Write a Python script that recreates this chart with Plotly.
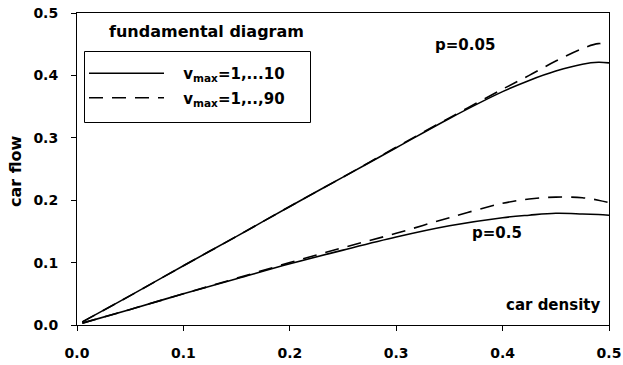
import plotly.graph_objects as go

# car density (x)
density = [0.005, 0.05, 0.1, 0.15, 0.2, 0.25, 0.3, 0.35, 0.4, 0.425, 0.45, 0.475, 0.49, 0.5]

# p = 0.05
flow_p005_v10 = [0.005, 0.047, 0.095, 0.142, 0.19, 0.237, 0.284, 0.331, 0.374, 0.392, 0.407, 0.418, 0.421, 0.420]
flow_p005_v90 = [0.005, 0.047, 0.095, 0.142, 0.19, 0.237, 0.285, 0.332, 0.378, 0.400, 0.423, 0.443, 0.451, 0.448]

# p = 0.5
flow_p05_v10 = [0.003, 0.025, 0.050, 0.074, 0.098, 0.120, 0.141, 0.159, 0.172, 0.176, 0.179, 0.178, 0.177, 0.176]
flow_p05_v90 = [0.003, 0.025, 0.050, 0.075, 0.100, 0.124, 0.147, 0.172, 0.195, 0.202, 0.205, 0.204, 0.200, 0.196]

x_ticks = [0.0, 0.1, 0.2, 0.3, 0.4, 0.5]
y_ticks = [0.0, 0.1, 0.2, 0.3, 0.4, 0.5]

series_names = ["v<sub>max</sub>=1,...10", "v<sub>max</sub>=1,..,90"]

FONT = "DejaVu Sans, Arial, sans-serif"
LINE_W = 1.6
DASH = "14px,9px"

# plot area in pixels
L, R, T, B = 77, 14, 13, 40
W, H = 623, 365
PW, PH = W - L - R, H - T - B


def px_x(x):
    return (x - L) / PW


def px_y(y):
    return (H - B - y) / PH


def legend_label(s):
    return "&nbsp;&nbsp;&nbsp;<b>" + s + "</b>"


fig = go.Figure()
fig.add_trace(go.Scatter(x=density, y=flow_p005_v10, mode="lines", line_shape="spline",
                         line=dict(color="black", width=LINE_W),
                         name=legend_label(series_names[0]), legendgroup="a"))
fig.add_trace(go.Scatter(x=density, y=flow_p005_v90, mode="lines", line_shape="spline",
                         line=dict(color="black", width=LINE_W, dash=DASH),
                         name=legend_label(series_names[1]), legendgroup="b"))
fig.add_trace(go.Scatter(x=density, y=flow_p05_v10, mode="lines", line_shape="spline",
                         line=dict(color="black", width=LINE_W), showlegend=False, legendgroup="a"))
fig.add_trace(go.Scatter(x=density, y=flow_p05_v90, mode="lines", line_shape="spline",
                         line=dict(color="black", width=LINE_W, dash=DASH), showlegend=False, legendgroup="b"))

axis_common = dict(
    showgrid=False, zeroline=False, showline=True, linecolor="black", linewidth=1,
    mirror=True, ticks="outside", ticklen=5, tickcolor="black", tickwidth=1,
    tickfont=dict(family=FONT, size=14, color="black"), automargin=False,
)

fig.update_layout(
    width=W, height=H,
    margin=dict(l=L, r=R, t=T, b=B),
    paper_bgcolor="white", plot_bgcolor="white",
    font=dict(family=FONT, color="black"),
    xaxis=dict(range=[0, 0.5], tickvals=x_ticks, ticktext=[f"<b>{v:.1f}</b>" for v in x_ticks],
               ticklabelstandoff=10, **axis_common),
    yaxis=dict(range=[0, 0.5], tickvals=y_ticks, ticktext=[f"<b>{v:.1f}</b>" for v in y_ticks],
               ticklabelstandoff=10, **axis_common),
    legend=dict(x=px_x(84), y=px_y(57), xanchor="left", yanchor="top",
                borderwidth=0, bgcolor="rgba(0,0,0,0)",
                font=dict(family=FONT, size=15, color="black"),
                itemwidth=75, tracegroupgap=2),
    showlegend=True,
    shapes=[dict(type="rect", xref="paper", yref="paper",
                 x0=px_x(84.5), x1=px_x(310.5), y0=px_y(122.5), y1=px_y(51.5),
                 line=dict(color="black", width=1), fillcolor="rgba(0,0,0,0)", layer="above")],
)

ann_font = dict(size=15, family=FONT, color="black")
fig.add_annotation(text="<b>fundamental diagram</b>", x=px_x(206), y=px_y(31),
                   xref="paper", yref="paper", xanchor="center", yanchor="middle",
                   showarrow=False, font=dict(size=16, family=FONT, color="black"))
fig.add_annotation(text="<b>p=0.05</b>", x=0.365, y=0.448, xref="x", yref="y",
                   xanchor="center", yanchor="middle", showarrow=False, font=ann_font)
fig.add_annotation(text="<b>p=0.5</b>", x=0.395, y=0.148, xref="x", yref="y",
                   xanchor="center", yanchor="middle", showarrow=False, font=ann_font)
fig.add_annotation(text="<b>car density</b>", x=0.447, y=0.032, xref="x", yref="y",
                   xanchor="center", yanchor="middle", showarrow=False, font=ann_font)
fig.add_annotation(text="<b>car flow</b>", x=px_x(15), y=px_y(171), xref="paper", yref="paper",
                   xanchor="center", yanchor="middle", showarrow=False, textangle=-90,
                   font=dict(size=16, family=FONT, color="black"))

fig.write_html("out.html")
